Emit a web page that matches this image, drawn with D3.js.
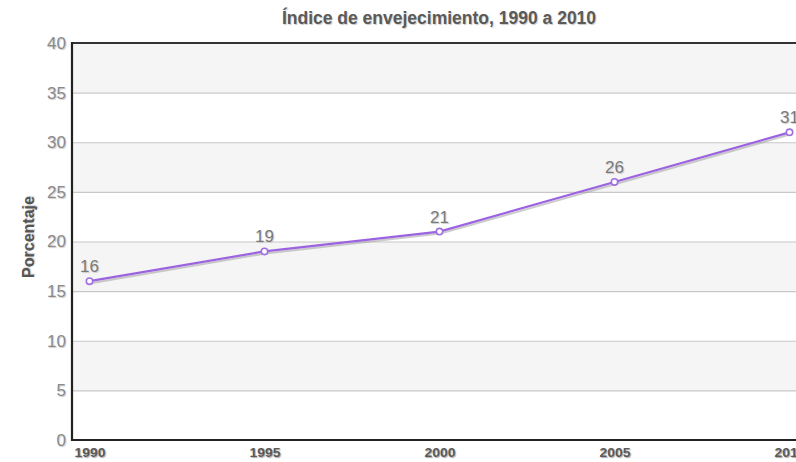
<!DOCTYPE html>
<html>
<head>
<meta charset="utf-8">
<script src="https://cdn.jsdelivr.net/npm/d3@7"></script>
<style>
  html, body { margin: 0; padding: 0; background: #fff; }
  svg { display: block; font-family: "Liberation Sans", Arial, sans-serif; }
</style>
</head>
<body>
<svg id="chart" width="796" height="462"></svg>
<script>
// Aging index, 1990–2010
const years = ["1990", "1995", "2000", "2005", "2010"];
const values = [16, 19, 21, 26, 31];
const yTicks = [0, 5, 10, 15, 20, 25, 30, 35, 40];
const titleText = "Índice de envejecimiento, 1990 a 2010";
const yTitle = "Porcentaje";

const svg = d3.select("#chart");
const plotL = 72, plotR = 807, plotT = 43, plotB = 440;

const x = d3.scalePoint().domain(years).range([plotL, plotR]).padding(0.1);
const y = d3.scaleLinear().domain([0, 40]).range([plotB, plotT]);

// alternating horizontal bands
const bands = d3.pairs(yTicks);
svg.append("g").selectAll("rect").data(bands).join("rect")
  .attr("x", plotL).attr("width", plotR - plotL)
  .attr("y", d => y(d[1])).attr("height", d => y(d[0]) - y(d[1]))
  .attr("fill", (d, i) => i % 2 === 1 ? "#f5f5f5" : "#ffffff");

// grid lines
svg.append("g").selectAll("line").data(yTicks.slice(1, -1)).join("line")
  .attr("x1", plotL).attr("x2", plotR)
  .attr("y1", d => y(d) + 0.5).attr("y2", d => y(d) + 0.5)
  .attr("stroke", "#c8c8c8").attr("stroke-width", 1.2);

// frame: top, bottom and left borders
svg.append("line").attr("x1", plotL).attr("x2", plotR).attr("y1", plotT).attr("y2", plotT)
  .attr("stroke", "#333").attr("stroke-width", 2.2);
svg.append("line").attr("x1", plotL).attr("x2", plotR).attr("y1", plotB).attr("y2", plotB)
  .attr("stroke", "#222").attr("stroke-width", 2.2);
svg.append("line").attr("x1", plotL).attr("x2", plotL).attr("y1", plotT - 1).attr("y2", plotB + 1)
  .attr("stroke", "#222").attr("stroke-width", 2.2);

// y axis labels
const yAxis = d3.axisLeft(y).tickValues(yTicks).tickSize(0).tickPadding(5);
const gy = svg.append("g").attr("transform", `translate(${plotL - 1},0)`).call(yAxis);
gy.select(".domain").remove();
gy.selectAll("text")
  .attr("font-family", "Liberation Sans, Arial, sans-serif")
  .attr("font-size", 17).attr("fill", "#8a8a8a")
  .style("text-shadow", "1px 1px 1px #ccc");

// x axis labels
const xAxis = d3.axisBottom(x).tickSize(0).tickPadding(7);
const gx = svg.append("g").attr("transform", `translate(0,${plotB})`).call(xAxis);
gx.select(".domain").remove();
gx.selectAll("text")
  .attr("font-family", "Liberation Sans, Arial, sans-serif")
  .attr("font-size", 13.5).attr("font-weight", "bold").attr("fill", "#5a5a5a")
  .attr("dy", "0.71em")
  .attr("textLength", 31).attr("lengthAdjust", "spacingAndGlyphs")
  .style("text-shadow", "1px 1px 1px #aaa");

// title
svg.append("text").attr("x", 439).attr("y", 23.5).attr("text-anchor", "middle")
  .attr("font-size", 17.5).attr("font-weight", "bold").attr("fill", "#5a5a5a")
  .style("text-shadow", "1px 1px 1px #ccc")
  .text(titleText);

// y title
svg.append("text")
  .attr("transform", `translate(34,237) rotate(-90)`)
  .attr("text-anchor", "middle")
  .attr("font-size", 16).attr("font-weight", "bold").attr("fill", "#555")
  .style("text-shadow", "1px 1px 1px #ccc")
  .text(yTitle);

const pts = years.map((yr, i) => [x(yr), y(values[i])]);
const lineGen = d3.line();

// line shadow
svg.append("path").attr("d", lineGen(pts))
  .attr("transform", "translate(1,2)")
  .attr("fill", "none").attr("stroke", "#999").attr("stroke-opacity", 0.5).attr("stroke-width", 2);

// series line
svg.append("path").attr("d", lineGen(pts))
  .attr("fill", "none").attr("stroke", "#9b63e0").attr("stroke-width", 2.2);

// markers
svg.append("g").selectAll("circle").data(pts).join("circle")
  .attr("cx", d => d[0]).attr("cy", d => d[1]).attr("r", 3.2)
  .attr("fill", "#fff").attr("stroke", "#a070e0").attr("stroke-width", 1.6);

// value labels
svg.append("g").selectAll("text").data(values).join("text")
  .attr("x", (d, i) => x(years[i])).attr("y", d => y(d) - 9)
  .attr("text-anchor", "middle")
  .attr("font-size", 17).attr("fill", "#7a7a7a")
  .style("text-shadow", "1px 1px 1px #ccc")
  .text(d => d);
</script>
</body>
</html>
